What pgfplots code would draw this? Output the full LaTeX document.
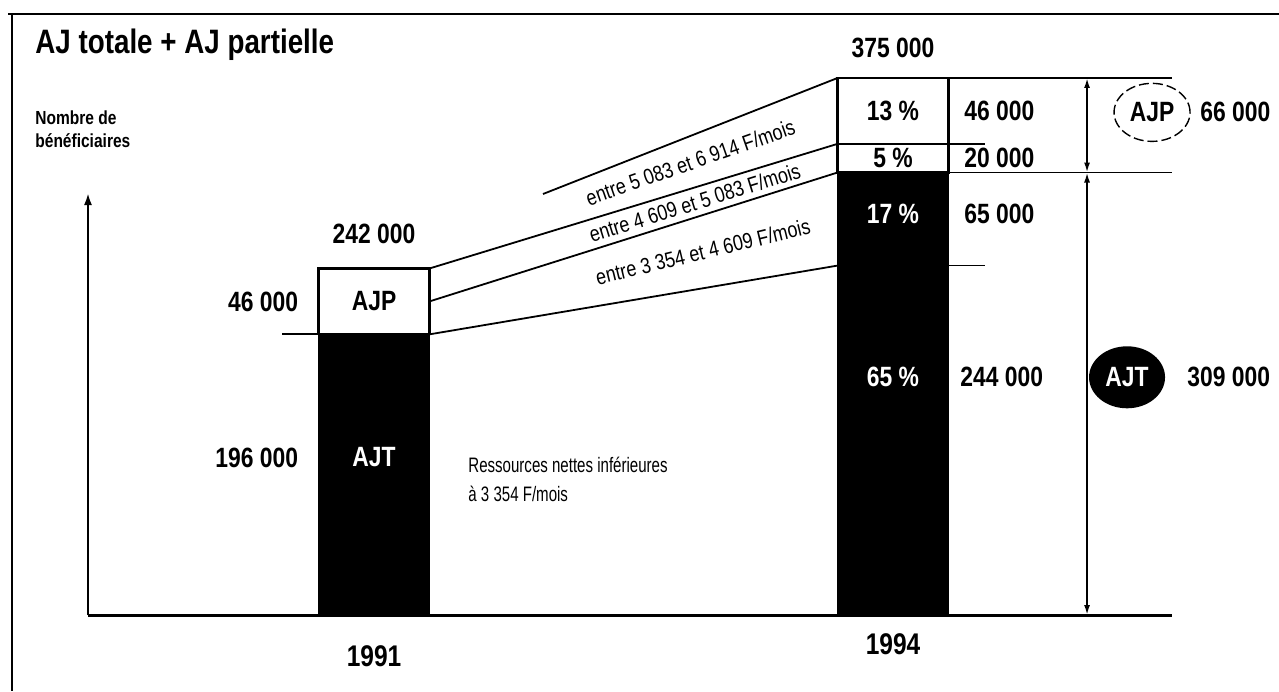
\documentclass[border=0pt]{standalone}
\usepackage{fontspec}
\setmainfont{Liberation Sans}[FakeStretch=0.82]
\newfontfamily\condfont{Liberation Sans}[FakeStretch=0.72]
\usepackage{pgfplots}
\pgfplotsset{compat=1.18}
\usetikzlibrary{arrows.meta,shapes.geometric}
\newcommand\ftitle{\fontsize{17}{20}\selectfont\bfseries}
\newcommand\fnum{\fontsize{14}{17}\selectfont\bfseries}
\newcommand\fyear{\fontsize{15}{18}\selectfont\bfseries}
\newcommand\fsmall{\condfont\fontsize{10.5}{14.5}\selectfont}
\newcommand\frot{\fontsize{11}{14}\selectfont}
\newcommand\flab{\fontsize{9.5}{11.5}\selectfont\bfseries}
\begin{document}
\begin{tikzpicture}
\begin{scope}[x=0.5bp,y=-0.5bp]
\useasboundingbox (0,0) rectangle (1279,691);
\draw[line width=1.2bp] (8,14)--(1279,14);
\draw[line width=1bp] (12,14)--(12,691);
\node[anchor=west, inner sep=0pt, font=\ftitle] at (35,45) {AJ totale + AJ partielle};
\node[anchor=north west, inner sep=0pt, align=left, font=\flab] at (35,110) {Nombre de\\bénéficiaires};
\node[anchor=north west, inner sep=0pt, align=left, font=\fsmall] at (468,457) {Ressources nettes inférieures\\à 3 354 F/mois};
\end{scope}
\begin{axis}[at={(44bp,-307.5bp)}, anchor=south west, scale only axis,
  width=542bp, height=211bp, xmin=0, xmax=1084, ymin=0, ymax=294690,
  clip=false, axis lines=left,
  x axis line style={-, line width=1.5bp},
  y axis line style={-{Latex[length=6bp,width=4bp]}, line width=1.1bp},
  ytick=\empty, xtick={286,805},
  xticklabels={\raisebox{-6bp}[\height][0pt]{1991},1994},
  major tick length=0pt, tick style={draw=none},
  xticklabel style={font=\fyear, inner sep=0pt, yshift=-9bp},
  ybar stacked, bar width=111]
\addplot[fill=black, draw=black] coordinates {(286,196000) (805,244000)};
\addplot[fill=black, draw=black] coordinates {(286,0) (805,65000)};
\addplot[fill=white, draw=black, line width=1.1bp] coordinates {(286,46000) (805,20000)};
\addplot[fill=white, draw=black, line width=1.1bp] coordinates {(286,0) (805,46000)};
% anchor points for annotations (data coordinates)
\coordinate (L1a) at (axis cs:455,294000);   \coordinate (L1b) at (axis cs:749.5,375000);
\coordinate (L2a) at (axis cs:341.5,242000); \coordinate (L2b) at (axis cs:749.5,329000);
\coordinate (L3a) at (axis cs:341.5,219000); \coordinate (L3b) at (axis cs:749.5,309000);
\coordinate (L4a) at (axis cs:341.5,196000); \coordinate (L4b) at (axis cs:749.5,244000);
\coordinate (M1a) at (axis cs:455,280100);   \coordinate (M1b) at (axis cs:749.5,352000);
\coordinate (M2a) at (axis cs:341.5,230500); \coordinate (M2b) at (axis cs:749.5,319000);
\coordinate (M3a) at (axis cs:341.5,207500); \coordinate (M3b) at (axis cs:749.5,276500);
\coordinate (A91p) at (axis cs:286,219000);
\coordinate (A91t) at (axis cs:286,110000);
\coordinate (T91) at (axis cs:286,242000);
\coordinate (E91p) at (axis cs:230.5,219000);
\coordinate (E91t) at (axis cs:230.5,110000);
\coordinate (S91a) at (axis cs:194,196000);  \coordinate (S91b) at (axis cs:230.5,196000);
\coordinate (T94) at (axis cs:805,375000);
\coordinate (P13) at (axis cs:805,352000);
\coordinate (P5) at (axis cs:805,319000);
\coordinate (P17) at (axis cs:805,280000);
\coordinate (P65) at (axis cs:805,166000);
\coordinate (V46) at (axis cs:876,352000);
\coordinate (V20) at (axis cs:876,319000);
\coordinate (V65) at (axis cs:876,280000);
\coordinate (V244) at (axis cs:872,166000);
\coordinate (H1a) at (axis cs:860.5,375000); \coordinate (H1b) at (axis cs:1084,375000);
\coordinate (H2a) at (axis cs:860.5,329000); \coordinate (H2b) at (axis cs:897,329000);
\coordinate (H3a) at (axis cs:860.5,309000); \coordinate (H3b) at (axis cs:1084,309000);
\coordinate (H4a) at (axis cs:860.5,244000); \coordinate (H4b) at (axis cs:897,244000);
\coordinate (D1) at (axis cs:999,375000); \coordinate (D2) at (axis cs:999,309000); \coordinate (D3) at (axis cs:999,0);
\coordinate (EAJP) at (axis cs:1064,351000); \coordinate (N66) at (axis cs:1112,351000);
\coordinate (EAJT) at (axis cs:1039,166000); \coordinate (N309) at (axis cs:1099,166000);
\end{axis}
% annotations drawn on top of the bars
\draw[line width=0.9bp] (L1a)--(L1b);
\draw[line width=0.9bp] (L2a)--(L2b);
\draw[line width=0.9bp] (L3a)--(L3b);
\draw[line width=0.9bp] (L4a)--(L4b);
\path (M1a)--(M1b) node[pos=0.5, sloped, inner sep=0pt, font=\frot]{entre 5 083 et 6 914 F/mois};
\path (M2a)--(M2b) node[pos=0.65, sloped, inner sep=0pt, font=\frot]{entre 4 609 et 5 083 F/mois};
\path (M3a)--(M3b) node[pos=0.67, sloped, inner sep=0pt, font=\frot]{entre 3 354 et 4 609 F/mois};
\node[font=\fnum] at (A91p) {AJP};
\node[font=\fnum, text=white] at (A91t) {AJT};
\node[font=\fnum, anchor=south, inner sep=0pt, yshift=12bp] at (T91) {242 000};
\node[font=\fnum, anchor=east, inner sep=0pt, xshift=-10bp] at (E91p) {46 000};
\draw[line width=0.9bp] (S91a)--(S91b);
\node[font=\fnum, anchor=east, inner sep=0pt, xshift=-10bp] at (E91t) {196 000};
\node[font=\fnum, anchor=south, inner sep=0pt, yshift=10bp] at (T94) {375 000};
\node[font=\fnum] at (P13) {13 \%};
\node[font=\fnum] at (P5) {5 \%};
\node[font=\fnum, text=white] at (P17) {17 \%};
\node[font=\fnum, text=white] at (P65) {65 \%};
\node[font=\fnum, anchor=west, inner sep=0pt] at (V46) {46 000};
\node[font=\fnum, anchor=west, inner sep=0pt] at (V20) {20 000};
\node[font=\fnum, anchor=west, inner sep=0pt] at (V65) {65 000};
\node[font=\fnum, anchor=west, inner sep=0pt] at (V244) {244 000};
\draw[line width=0.9bp] (H1a)--(H1b);
\draw[line width=0.9bp] (H2a)--(H2b);
\draw[line width=0.9bp] (H3a)--(H3b);
\draw[line width=0.9bp] (H4a)--(H4b);
\draw[{Latex[length=5bp,width=3bp]}-{Latex[length=5bp,width=3bp]}, line width=0.9bp] (D1)--(D2);
\draw[{Latex[length=5bp,width=3bp]}-{Latex[length=5bp,width=3bp]}, line width=0.9bp] (D2)--(D3);
\node[ellipse, draw, line width=0.7bp, dash pattern=on 5bp off 2bp, minimum width=38bp, minimum height=29bp, inner sep=0pt, font=\fnum] at (EAJP) {AJP};
\node[font=\fnum, anchor=west, inner sep=0pt] at (N66) {66 000};
\node[ellipse, fill=black, minimum width=38bp, minimum height=31bp, inner sep=0pt, font=\fnum, text=white] at (EAJT) {AJT};
\node[font=\fnum, anchor=west, inner sep=0pt] at (N309) {309 000};
\end{tikzpicture}
\end{document}
